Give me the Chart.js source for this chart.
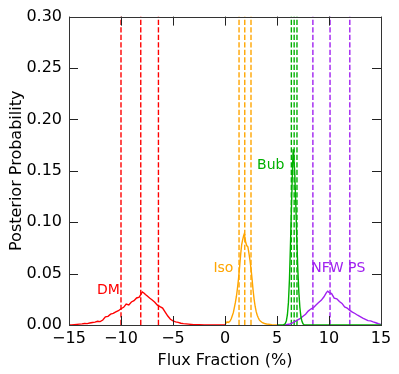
<!DOCTYPE html>
<html>
<head>
<meta charset="utf-8">
<script src="https://cdn.jsdelivr.net/npm/chart.js@4/dist/chart.umd.min.js"></script>
<style>
html,body{margin:0;padding:0;background:#fff;}
#wrap{width:399px;height:374px;position:relative;}
</style>
</head>
<body>
<div id="wrap"><canvas id="c" width="399" height="374"></canvas></div>
<script>
// ---- data ----
const xTicks = [-15, -10, -5, 0, 5, 10, 15];
const yTicks = [0, 0.05, 0.10, 0.15, 0.20, 0.25, 0.30];

const dmX = [-15,-14.75,-14.5,-14.25,-14,-13.75,-13.5,-13.25,-13,-12.75,-12.5,-12.25,-12,-11.75,-11.5,-11.25,-11,-10.75,-10.5,-10.25,-10,-9.75,-9.5,-9.25,-9,-8.75,-8.5,-8.25,-8.1,-7.95,-7.8,-7.65,-7.5,-7.25,-7,-6.75,-6.5,-6.25,-6,-5.75,-5.5,-5.25,-5,-4.75,-4.5,-4.25,-4,-3.5,-3,-2.5,-2,0];
const dmY = [0,0,0.0003,0.0006,0.0009,0.0011,0.0014,0.0013,0.0019,0.0024,0.0028,0.0036,0.0033,0.0048,0.0079,0.0084,0.0106,0.0113,0.0128,0.0139,0.0158,0.0172,0.0204,0.0196,0.0224,0.0236,0.0263,0.0271,0.0295,0.0322,0.0312,0.0296,0.0284,0.0262,0.0243,0.0222,0.0193,0.0178,0.0164,0.0126,0.0087,0.0056,0.0041,0.0031,0.0026,0.0017,0.0013,0.0008,0.0004,0.0002,0,0];

const isoX = [0,0.1,0.2,0.3,0.4,0.5,0.6,0.7,0.8,0.9,1.0,1.1,1.2,1.3,1.4,1.5,1.6,1.7,1.8,1.85,1.9,2.0,2.1,2.2,2.3,2.4,2.5,2.6,2.7,2.8,2.9,3.0,3.1,3.2,3.3,3.4,3.6,3.8,4.0,4.5,5.0];
const isoY = [0,0.002,0.003,0.0025,0.003,0.004,0.006,0.009,0.012,0.017,0.022,0.028,0.036,0.045,0.056,0.068,0.078,0.083,0.087,0.0885,0.086,0.080,0.077,0.076,0.070,0.063,0.055,0.045,0.034,0.025,0.018,0.013,0.0095,0.007,0.005,0.0038,0.0022,0.0015,0.001,0.0004,0];

const bubX = [5.0,5.6,5.7,5.8,5.9,6.0,6.1,6.2,6.3,6.4,6.5,6.55,6.6,6.7,6.8,6.9,7.0,7.1,7.2,7.3,7.4,7.5,7.6,7.7,15];
const bubY = [0,0,0.0005,0.0015,0.004,0.010,0.022,0.045,0.080,0.118,0.155,0.171,0.165,0.150,0.120,0.085,0.055,0.032,0.017,0.008,0.0035,0.0012,0.0003,0,0];

const nfwX = [5.75,6.0,6.25,6.5,6.75,7.0,7.25,7.5,7.75,8.0,8.25,8.5,8.75,9.0,9.25,9.5,9.75,9.875,10.0,10.25,10.5,10.75,11.0,11.25,11.5,11.75,12.0,12.25,12.5,12.75,13.0,13.25,13.5,13.75,14.0,14.25,14.5,14.75,15.0];
const nfwY = [0,0.0005,0.001,0.002,0.0035,0.005,0.0065,0.0085,0.0105,0.0135,0.0155,0.0168,0.0195,0.0218,0.024,0.0272,0.0315,0.0328,0.0318,0.0305,0.0262,0.0255,0.0228,0.021,0.0175,0.0165,0.0142,0.0125,0.0112,0.0095,0.0082,0.0068,0.0055,0.0042,0.004,0.003,0.0022,0.0012,0.0005];

const dmLines = [-10.0, -8.1, -6.4];
const isoLines = [1.35, 1.9, 2.5];
const bubLines = [6.38, 6.65, 6.92];
const nfwLines = [8.45, 10.1, 12.0];

const seriesNames = ['DM', 'Iso', 'Bub', 'NFW PS'];
const labelX = [-11.2, -0.15, 4.4, 10.9];
const labelY = [0.0337, 0.0551, 0.1555, 0.0555];

// ---- styles ----
const colors = ['#ff0000', '#ffa500', '#00b000', '#a020f0'];

function pts(xs, ys) { return xs.map((x, i) => ({x: x, y: ys[i]})); }

const datasets = [];
const curveSets = [[dmX, dmY], [isoX, isoY], [bubX, bubY], [nfwX, nfwY]];
const lineSets = [dmLines, isoLines, bubLines, nfwLines];
curveSets.forEach((s, k) => {
  datasets.push({
    data: pts(s[0], s[1]), borderColor: colors[k], borderWidth: 1.4,
    pointRadius: 0, showLine: true, fill: false, tension: 0
  });
});
lineSets.forEach((ls, k) => {
  ls.forEach(v => {
    datasets.push({
      data: [{x: v, y: 0}, {x: v, y: 0.3}], borderColor: colors[k], borderWidth: 1.4,
      borderDash: [5.3, 2.2], pointRadius: 0, showLine: true, fill: false
    });
  });
});

const frame = {
  id: 'frame',
  afterDatasetsDraw(chart) {
    const ctx = chart.ctx, a = chart.chartArea;
    const xs = chart.scales.x, ys = chart.scales.y;
    ctx.save();
    ctx.strokeStyle = '#222';
    ctx.lineWidth = 1;
    ctx.beginPath();
    const tl = 9;
    xTicks.forEach(v => {
      const px = Math.round(xs.getPixelForValue(v)) + 0.5;
      ctx.moveTo(px, a.bottom); ctx.lineTo(px, a.bottom - tl);
      ctx.moveTo(px, a.top); ctx.lineTo(px, a.top + tl);
    });
    yTicks.forEach(v => {
      const py = Math.round(ys.getPixelForValue(v)) + 0.5;
      ctx.moveTo(a.left, py); ctx.lineTo(a.left + tl, py);
      ctx.moveTo(a.right, py); ctx.lineTo(a.right - tl, py);
    });
    ctx.stroke();
    ctx.strokeStyle = '#333';
    ctx.strokeRect(Math.round(a.left) + 0.5, Math.round(a.top) + 0.5, Math.round(a.right - a.left), Math.round(a.bottom - a.top));
    ctx.font = '14px "DejaVu Sans"';
    ctx.textAlign = 'center';
    ctx.textBaseline = 'middle';
    seriesNames.forEach((n, k) => {
      ctx.fillStyle = colors[k];
      ctx.fillText(n, xs.getPixelForValue(labelX[k]), ys.getPixelForValue(labelY[k]));
    });
    ctx.restore();
  }
};

Chart.defaults.font.family = '"DejaVu Sans"';
Chart.defaults.font.size = 16;
Chart.defaults.color = '#000';

new Chart(document.getElementById('c'), {
  type: 'scatter',
  data: { datasets: datasets },
  options: {
    responsive: false,
    animation: false,
    events: [],
    layout: { padding: { top: 13, right: 18, left: 0, bottom: 0 } },
    plugins: { legend: { display: false }, tooltip: { enabled: false } },
    scales: {
      x: {
        type: 'linear', min: -15, max: 15,
        afterFit: s => { s.height = 49; },
        afterBuildTicks: s => { s.ticks = xTicks.map(v => ({value: v})); },
        grid: { display: false, drawTicks: false },
        border: { display: false },
        ticks: { padding: 4, color: '#000', callback: v => (v < 0 ? '\u2212' + Math.abs(v) : String(v)), maxRotation: 0, autoSkip: false },
        title: { display: true, text: 'Flux Fraction (%)', color: '#000', font: { size: 16 }, padding: { top: 0, bottom: 4 } }
      },
      y: {
        type: 'linear', min: 0, max: 0.3,
        afterFit: s => { s.width = 69; },
        afterBuildTicks: s => { s.ticks = yTicks.map(v => ({value: v})); },
        grid: { display: false, drawTicks: false },
        border: { display: false },
        ticks: { padding: 7, color: '#000', callback: v => v.toFixed(2), autoSkip: false },
        title: { display: true, text: 'Posterior Probability', color: '#000', font: { size: 16 }, padding: { top: 7, bottom: 0 } }
      }
    }
  },
  plugins: [frame]
});
</script>
</body>
</html>
